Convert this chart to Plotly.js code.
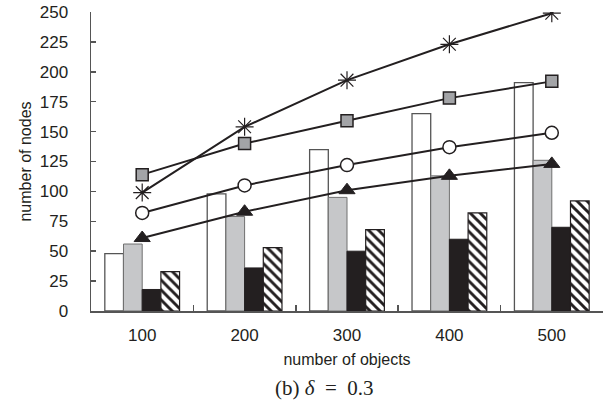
<!DOCTYPE html>
<html>
<head>
<meta charset="utf-8">
<script src="https://cdn.plot.ly/plotly-3.0.1.min.js"></script>
<style>
html,body{margin:0;padding:0;background:#fff;}
#chart{width:614px;height:412px;}
</style>
</head>
<body>
<div id="chart"></div>
<script>
const categories = ["100", "200", "300", "400", "500"];

// bar series
const barWhite   = [48, 98, 135, 165, 191];
const barGray    = [56, 79, 95, 113, 126];
const barBlack   = [18, 36, 50, 60, 70];
const barHatched = [33, 53, 68, 82, 92];

// line series
const lineStar     = [99, 154, 193, 223, 249];
const lineSquare   = [114, 140, 159, 178, 192];
const lineCircle   = [82, 105, 122, 137, 149];
const lineTriangle = [61, 83, 101, 113, 123];

const ink = "#231f20";

const traces = [
  {type:"bar", x:categories, y:barWhite,
   marker:{color:"#ffffff", line:{color:"#555555", width:1.3}}},
  {type:"bar", x:categories, y:barGray,
   marker:{color:"#c6c7c9", line:{color:"#707070", width:1}}},
  {type:"bar", x:categories, y:barBlack,
   marker:{color:ink, line:{color:ink, width:1}}},
  {type:"bar", x:categories, y:barHatched,
   marker:{color:"#ffffff", line:{color:ink, width:1.2},
           pattern:{shape:"\\", fgcolor:ink, bgcolor:"#ffffff", size:7, solidity:0.42}}},
  {type:"scatter", mode:"lines+markers", x:categories, y:lineStar,
   line:{color:ink, width:2},
   marker:{symbol:"asterisk-open", size:15, color:ink, line:{color:ink, width:1.2}}},
  {type:"scatter", mode:"lines+markers", x:categories, y:lineSquare,
   line:{color:ink, width:2},
   marker:{symbol:"square", size:12, color:"#a3a4a7", line:{color:ink, width:1.5}}},
  {type:"scatter", mode:"lines+markers", x:categories, y:lineCircle,
   line:{color:ink, width:2},
   marker:{symbol:"circle", size:13, color:"#ffffff", line:{color:ink, width:1.5}}},
  {type:"scatter", mode:"lines+markers", x:categories, y:lineTriangle,
   line:{color:ink, width:2},
   marker:{symbol:"triangle-up", size:14, color:ink, line:{color:ink, width:1}}}
];

const layout = {
  width:614, height:412,
  margin:{l:91, r:11, t:12, b:101},
  paper_bgcolor:"#ffffff", plot_bgcolor:"#ffffff",
  showlegend:false,
  barmode:"group",
  bargap:0.27, bargroupgap:0,
  font:{family:"Liberation Sans, Arial, sans-serif", color:"#231f20", size:17},
  xaxis:{
    type:"category",
    showgrid:false, zeroline:false,
    showline:true, linecolor:"#555555", linewidth:1.5,
    ticks:"inside", ticklen:6, tickcolor:"#555555", tickwidth:1.5,
    tickson:"boundaries",
    ticklabelstandoff:8,
    tickfont:{size:17},
    title:{text:"number of objects", font:{size:16}, standoff:10}
  },
  yaxis:{
    range:[0,250], dtick:25,
    showgrid:false, zeroline:false,
    showline:true, linecolor:"#555555", linewidth:1.5,
    ticks:"inside", ticklen:5, tickcolor:"#555555", tickwidth:1.5,
    ticklabelstandoff:18,
    tickfont:{size:17},
    title:{text:"number of nodes", font:{size:16}, standoff:4}
  },
  annotations:[{
    xref:"paper", yref:"paper", x:0.457, y:-0.212, yanchor:"top", xanchor:"center",
    showarrow:false,
    text:"(b)&nbsp;<i>δ</i>&nbsp;&nbsp;=&nbsp;&nbsp;0.3",
    font:{family:"Liberation Serif, DejaVu Serif, serif", size:21, color:"#231f20"}
  }]
};

Plotly.newPlot("chart", traces, layout, {staticPlot:true, displayModeBar:false});
</script>
</body>
</html>
